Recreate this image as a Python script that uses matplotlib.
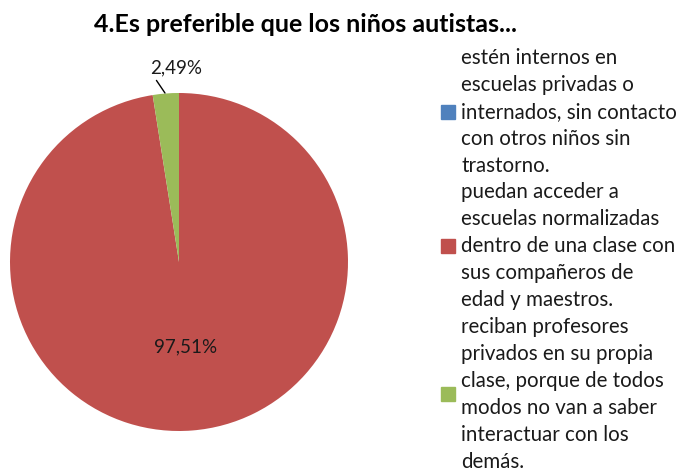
import matplotlib
matplotlib.use("Agg")
import matplotlib.pyplot as plt
from matplotlib.patches import Rectangle

plt.rcParams['font.family'] = ['Lato', 'DejaVu Sans']

title = "4.Es preferible que los niños autistas..."
labels = [
    ["estén internos en", "escuelas privadas o", "internados, sin contacto",
     "con otros niños sin", "trastorno."],
    ["puedan acceder a", "escuelas normalizadas", "dentro de una clase con",
     "sus compañeros de", "edad y maestros."],
    ["reciban profesores", "privados en su propia", "clase, porque de todos",
     "modos no van a saber", "interactuar con los", "demás."],
]
values = [0.0, 97.51, 2.49]
pct_text = ["", "97,51%", "2,49%"]
colors = ['#4F81BD', '#C0504D', '#9BBB59']

W, H = 677, 475
fig = plt.figure(figsize=(W / 100, H / 100), dpi=100)
ax = fig.add_axes([10 / W, 44 / H, 338 / W, 338 / H])

wedges, _ = ax.pie(values, colors=colors, startangle=90, counterclock=False,
                   radius=1, wedgeprops=dict(linewidth=0))
ax.set_xlim(-1, 1)
ax.set_ylim(-1, 1)
ax.set_aspect('equal')

txt_col = '#1a1a1a'
# data labels
ax.text(0.036, -0.50, pct_text[1], ha='center', va='center', fontsize=13.5, color=txt_col)
ax.annotate(pct_text[2], xy=(-0.083, 1.0), xytext=(-0.02, 1.148),
            ha='center', va='center', fontsize=13.5, color=txt_col,
            arrowprops=dict(arrowstyle='-', color='black', lw=1,
                            shrinkA=1, shrinkB=0, relpos=(0.08, 0.0)),
            annotation_clip=False)

fig.text(305 / W, 1 - 25 / H, title, ha='center', va='center',
         fontsize=18, fontweight='bold', color='black')

# legend, drawn line by line
line_h = 26.9
y0 = 58
x_text = 461
i = 0
for entry, col in zip(labels, colors):
    first = i
    for line in entry:
        y = y0 + i * line_h
        fig.text(x_text / W, 1 - y / H, line, ha='left', va='center',
                 fontsize=14.8, color=txt_col)
        i += 1
    ymid = y0 + (first + i - 1) / 2 * line_h
    fig.patches.append(Rectangle((441 / W, 1 - (ymid + 7) / H), 14 / W, 14 / H,
                                 transform=fig.transFigure, color=col, figure=fig))

fig.savefig("out.png", dpi=100)
